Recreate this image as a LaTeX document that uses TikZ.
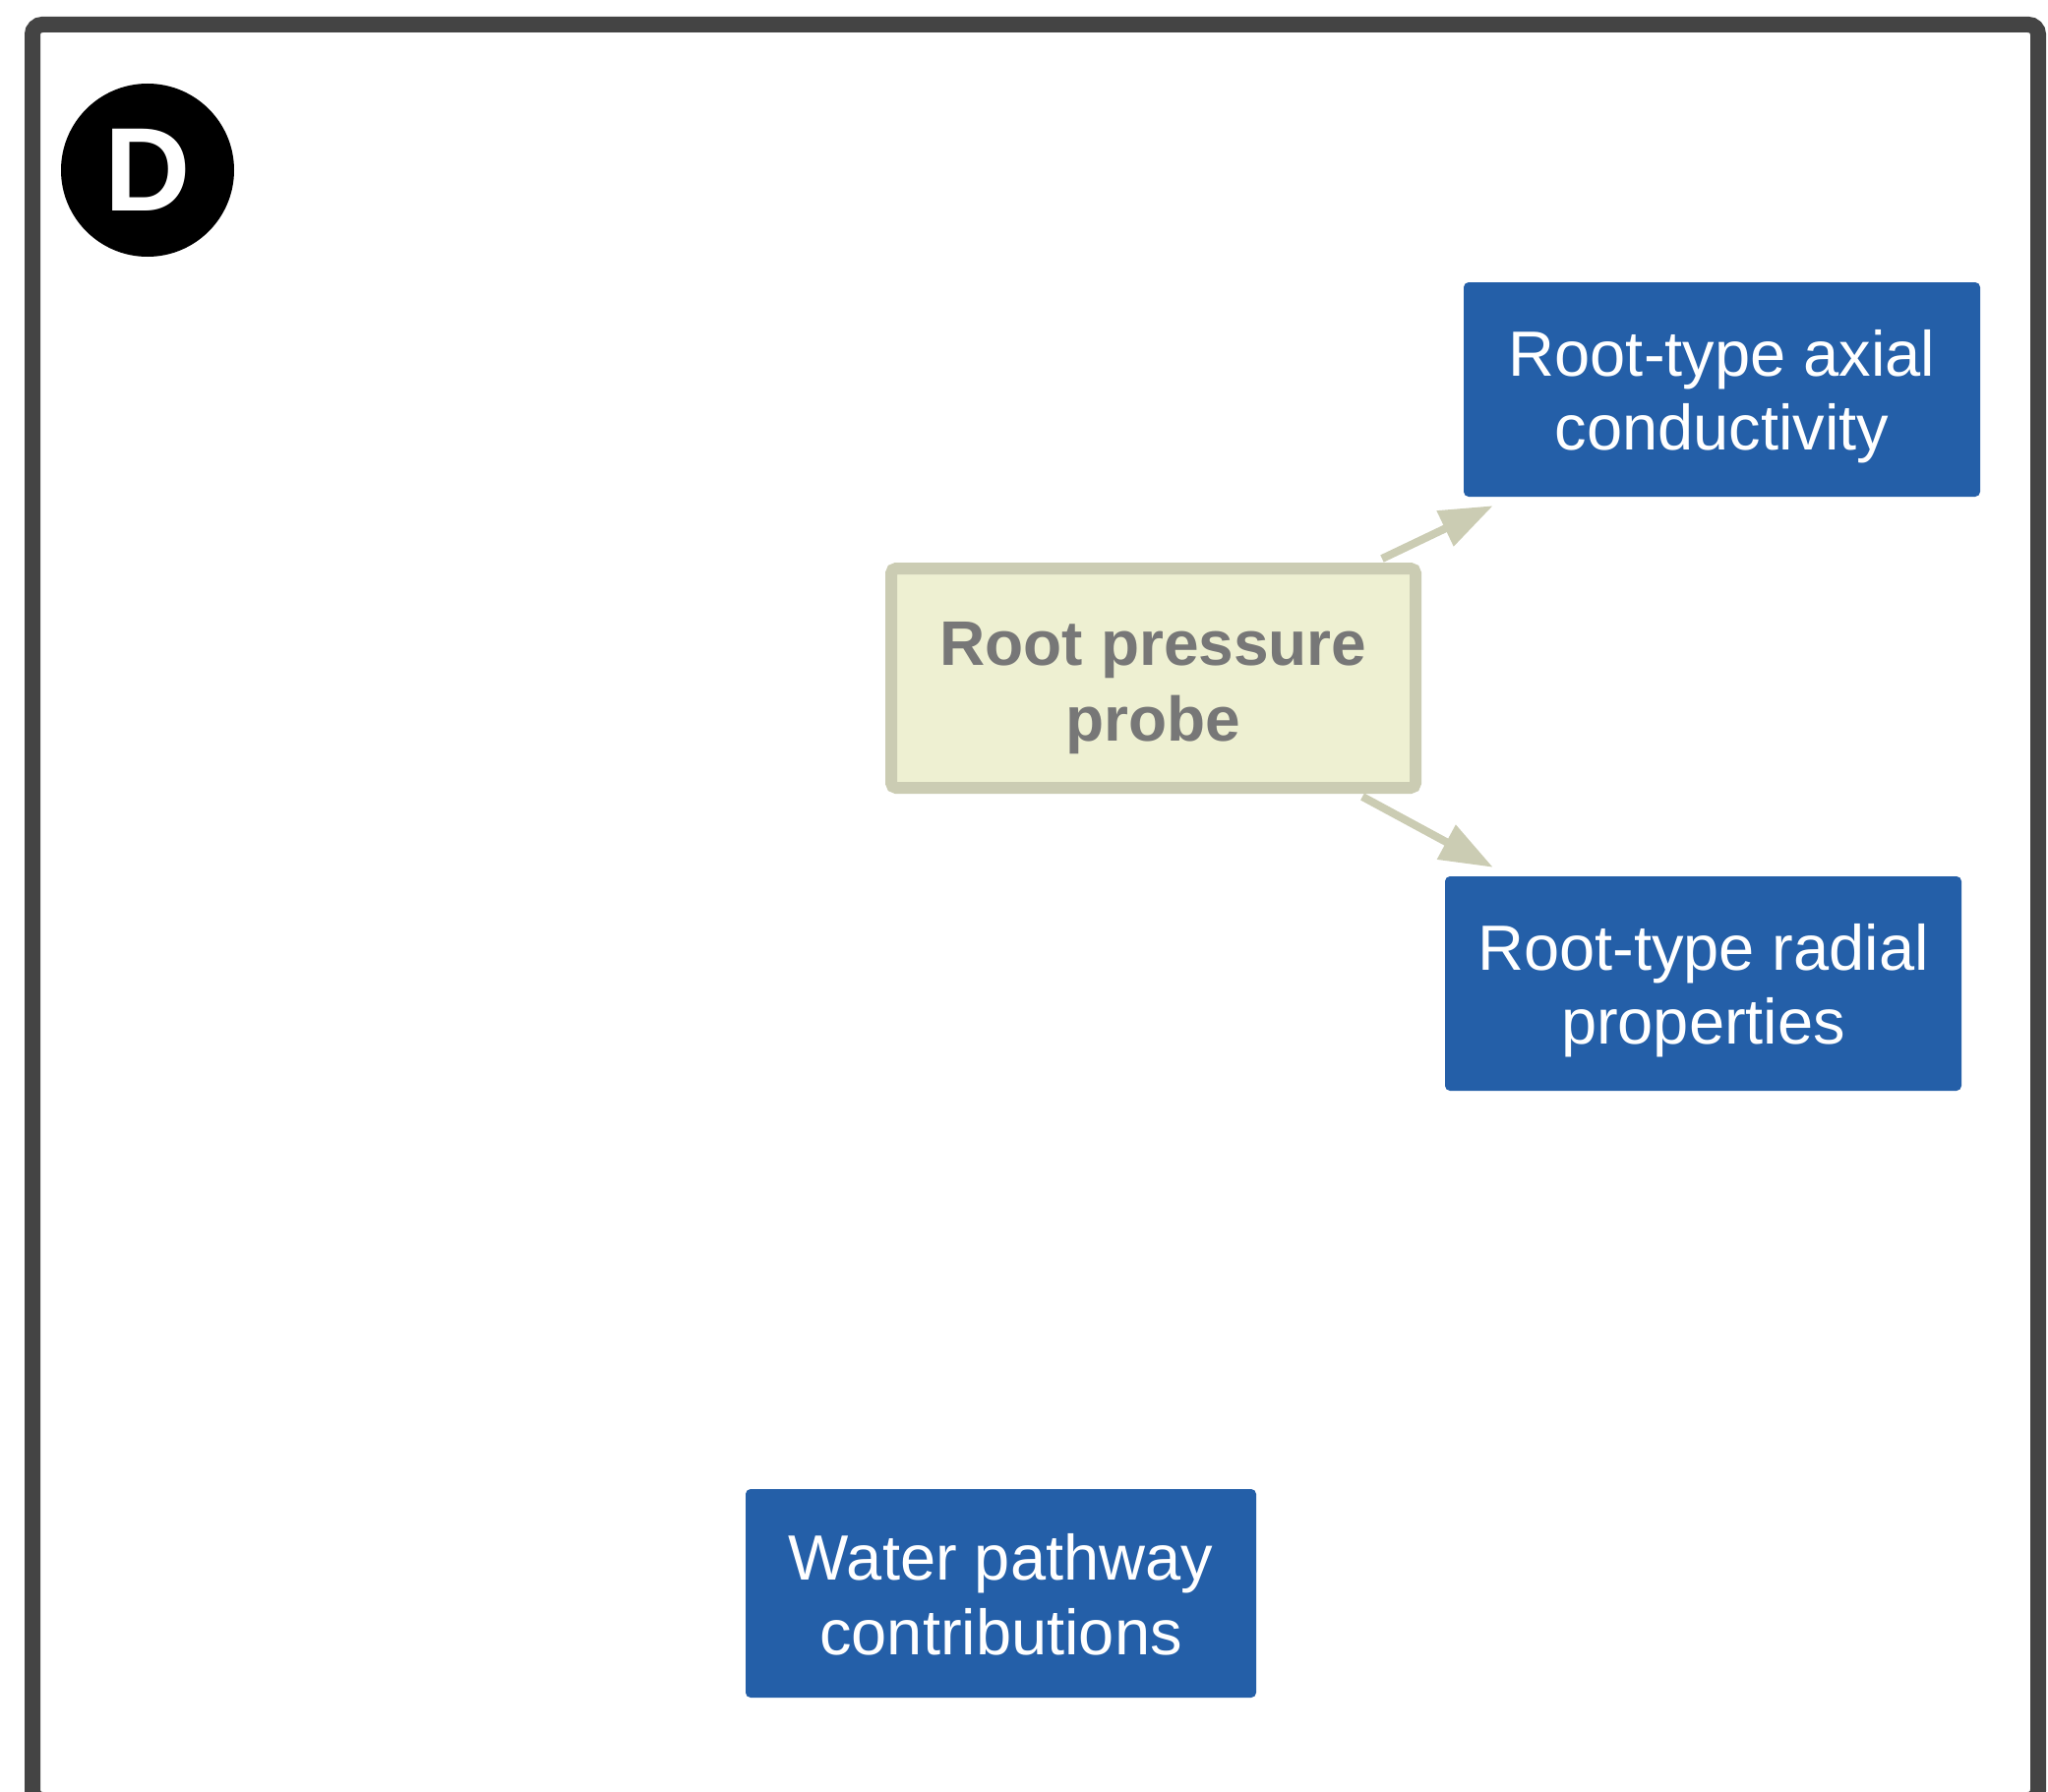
\documentclass[tikz,border=0pt]{standalone}
\usepackage{fontspec}
\setmainfont{Liberation Sans}
\usetikzlibrary{arrows.meta}
\definecolor{frameGray}{HTML}{444444}
\definecolor{boxBlue}{HTML}{245FA8}
\definecolor{probeFill}{HTML}{EEF0D2}
\definecolor{probeLine}{HTML}{CBCCB3}
\definecolor{probeText}{HTML}{777777}
% fixed-height struts so every two-line label sits at the same place
\newcommand{\bxtop}{\rule{0pt}{62pt}}
\newcommand{\bxbot}{\rule[-14pt]{0pt}{14pt}}
\newcommand{\prtop}{\rule{0pt}{64pt}}
\begin{document}
\begin{tikzpicture}[x=1pt, y=-1pt,
  bluebox/.style={fill=boxBlue, rounded corners=5pt, inner sep=0pt,
    minimum width=525pt, minimum height=218pt, align=center,
    text=white, font=\fontsize{65}{75}\selectfont},
  probebox/.style={fill=probeFill, draw=probeLine, line width=12pt,
    rounded corners=5pt, inner sep=0pt, minimum width=533pt,
    minimum height=223pt, align=center, text=probeText,
    font=\fontsize{64}{77}\selectfont\bfseries},
  conn/.style={draw=probeLine, line width=8pt,
    -{Triangle[length=54pt, width=38pt]}}]
\useasboundingbox (0,0) rectangle (2082,1822);
% panel frame
\draw[frameGray, line width=16pt, rounded corners=10pt] (33,25) rectangle (2072,1830);
% panel letter
\node[circle, fill=black, minimum size=176pt, inner sep=0pt] (badge) at (150,173)
  {\fontsize{121}{121}\selectfont\bfseries\color{white}D};
% nodes
\node[probebox] (probe) at (1172.5,689.5) {\prtop Root pressure\\probe\bxbot};
\node[bluebox] (axial) at (1750.5,396) {\bxtop Root-type axial\\conductivity\bxbot};
\node[bluebox] (radial) at (1731.5,1000) {\bxtop Root-type radial\\properties\bxbot};
\node[bluebox, minimum width=519pt, minimum height=212pt,
  font=\fontsize{65}{76}\selectfont] (water) at (1017.5,1620)
  {\bxtop Water pathway\\contributions\bxbot};
% connectors
\draw[conn] ([xshift=-40pt, yshift=4pt]probe.north east) -- ([xshift=30pt, yshift=-9pt]axial.south west);
\draw[conn] ([xshift=-60pt, yshift=-3pt]probe.south east) -- ([xshift=49pt, yshift=9pt]radial.north west);
\end{tikzpicture}
\end{document}
